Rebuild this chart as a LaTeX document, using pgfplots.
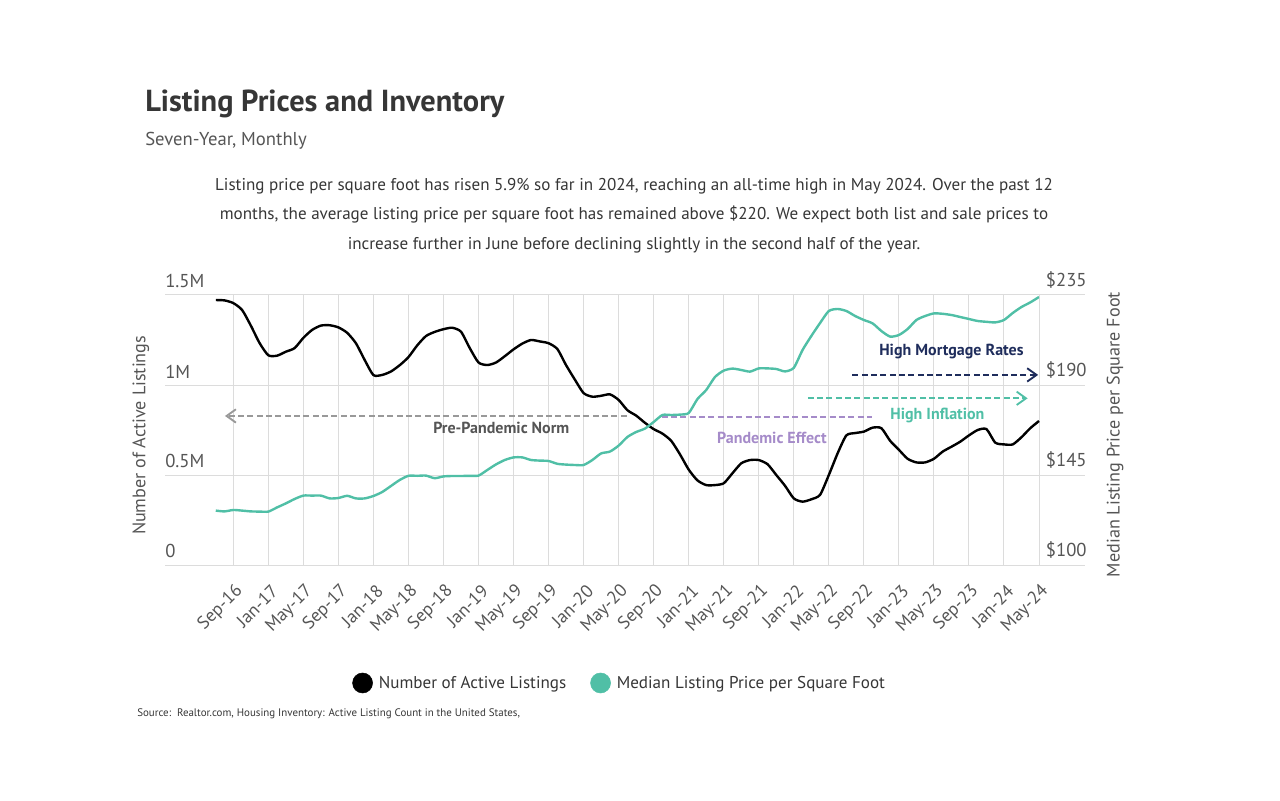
\documentclass[border=0pt]{standalone}
\usepackage{fontspec}
\setmainfont{PT Sans}
\usepackage{pgfplots}
\usepackage{pgfplotstable}
\pgfplotsset{compat=1.18}
\usetikzlibrary{arrows.meta}
\definecolor{tealc}{HTML}{50BFA6}
\definecolor{navyc}{HTML}{1F2D5C}
\definecolor{purpc}{HTML}{A58BC9}
\definecolor{gridc}{HTML}{DCDCDC}
\definecolor{txtc}{HTML}{555555}
\definecolor{titc}{HTML}{363636}

\pgfplotstableread{
m v
0 1.472
1 1.470
2 1.455
3 1.417
4 1.330
5 1.233
6 1.165
7 1.163
8 1.185
9 1.205
10 1.262
11 1.306
12 1.330
13 1.332
14 1.320
15 1.290
16 1.232
17 1.139
18 1.055
19 1.056
20 1.075
21 1.110
22 1.155
23 1.220
24 1.272
25 1.295
26 1.310
27 1.318
28 1.296
29 1.205
30 1.125
31 1.111
32 1.125
33 1.160
34 1.198
35 1.230
36 1.250
37 1.242
38 1.232
39 1.200
40 1.110
41 1.030
42 0.955
43 0.935
44 0.940
45 0.948
46 0.917
47 0.860
48 0.830
49 0.790
50 0.755
51 0.730
52 0.690
53 0.615
54 0.530
55 0.470
56 0.444
57 0.444
58 0.454
59 0.510
60 0.565
61 0.583
62 0.583
63 0.560
64 0.500
65 0.440
66 0.370
67 0.352
68 0.365
69 0.390
70 0.500
71 0.620
72 0.720
73 0.733
74 0.741
75 0.763
76 0.760
77 0.690
78 0.640
79 0.590
80 0.570
81 0.570
82 0.590
83 0.630
84 0.657
85 0.685
86 0.720
87 0.750
88 0.755
89 0.680
90 0.670
91 0.670
92 0.710
93 0.760
94 0.800
}\listings

\pgfplotstableread{
m v
0 127.2
1 126.8
2 127.5
3 127.2
4 126.8
5 126.7
6 126.7
7 128.8
8 130.8
9 133.0
10 134.7
11 134.7
12 134.7
13 133.3
14 133.5
15 134.6
16 133.3
17 133.3
18 134.5
19 136.5
20 139.5
21 142.5
22 144.6
23 144.6
24 144.7
25 143.4
26 144.3
27 144.5
28 144.5
29 144.6
30 144.7
31 147.5
32 150.3
33 152.5
34 153.8
35 153.8
36 152.5
37 152.2
38 152.0
39 150.6
40 150.2
41 150.0
42 150.0
43 152.5
44 155.8
45 156.7
46 159.7
47 164.0
48 166.5
49 168.2
50 171.5
51 175.0
52 175.0
53 175.2
54 176.0
55 183.0
56 187.5
57 194.0
58 197.2
59 198.2
60 197.5
61 196.7
62 198.3
63 198.3
64 198.0
65 196.8
66 198.6
67 207.5
68 214.5
69 221.0
70 227.0
71 228.0
72 227.0
73 224.5
74 222.5
75 220.8
76 217.0
77 214.2
78 215.0
79 218.0
80 222.5
81 224.5
82 225.8
83 225.6
84 225.0
85 224.0
86 223.0
87 222.0
88 221.6
89 221.3
90 222.5
91 226.0
92 229.0
93 231.3
94 234.0
}\prices

\begin{document}
\begin{tikzpicture}
\begin{scope}[x=0.75pt,y=0.75pt]
\path[use as bounding box] (0,0) rectangle (1280,800);
\node[anchor=base west, inner sep=0pt, text=titc, font=\fontsize{22.8}{22.8}\selectfont\bfseries] at (145,688.3) {Listing Prices and Inventory};
\node[anchor=base west, inner sep=0pt, text=txtc, font=\fontsize{14}{14}\selectfont] at (145,654) {Seven-Year, Monthly};
\node[anchor=base, inner sep=0pt, text=titc, font=\fontsize{12.8}{12.8}\selectfont] at (634,609) {Listing price per square foot has risen 5.9\% so far in 2024, reaching an all-time high in May 2024. Over the past 12};
\node[anchor=base, inner sep=0pt, text=titc, font=\fontsize{12.8}{12.8}\selectfont] at (634,580) {months, the average listing price per square foot has remained above \$220. We expect both list and sale prices to};
\node[anchor=base, inner sep=0pt, text=titc, font=\fontsize{12.8}{12.8}\selectfont] at (634,550) {increase further in June before declining slightly in the second half of the year.};
\node[anchor=base west, inner sep=0pt, text=titc, font=\fontsize{8.2}{8.2}\selectfont] at (137,84) {Source:\ \ Realtor.com, Housing Inventory: Active Listing Count in the United States,};
\end{scope}

\begin{axis}[
  at={(123.75pt,176.25pt)}, anchor=south west,
  width=655.5pt, height=202.5pt, scale only axis,
  xmin=-5.8, xmax=94, ymin=0, ymax=1.5,
  clip=false,
  axis line style={draw=none},
  major tick style={draw=none},
  xtick={2,6,...,94},
  xticklabels={Sep-16,Jan-17,May-17,Sep-17,Jan-18,May-18,Sep-18,Jan-19,May-19,Sep-19,Jan-20,May-20,Sep-20,Jan-21,May-21,Sep-21,Jan-22,May-22,Sep-22,Jan-23,May-23,Sep-23,Jan-24,May-24},
  xmajorgrids, grid style={gridc, line width=0.75pt},
  xticklabel style={font=\fontsize{13.5}{13.5}\selectfont, text=txtc, inner sep=0pt, xshift=5pt, yshift=-17.5pt, rotate=45, anchor=east},
  ytick={0,0.5,1,1.5},
  yticklabels={0,0.5M,1M,1.5M},
  yticklabel style={font=\fontsize{14}{14}\selectfont, text=txtc, inner sep=0pt, anchor=south west, yshift=5pt},
  ylabel={Number of Active Listings},
  ylabel style={at={(axis description cs:-0.0275,0.48)}, anchor=center, font=\fontsize{13.6}{13.6}\selectfont, text=txtc},
]
\foreach \yy in {0,0.5,1,1.5}{\edef\tmp{\noexpand\draw[gridc, line width=0.75pt] (axis cs:-5.8,\yy) -- (axis cs:99.2,\yy);}\tmp}
\addplot[black, line width=1.8pt, smooth, tension=0.4] table[x=m,y=v] {\listings};
% annotations
\draw[dash pattern=on 4.5pt off 2.5pt, color=gray!80, line width=1.4pt, -{Straight Barb[length=7pt,width=10pt]}] (axis cs:46.9,0.828) -- (axis cs:1.05,0.828);
\node[text=txtc, font=\fontsize{12}{12}\selectfont\bfseries] at (axis cs:32.6,0.761) {Pre-Pandemic Norm};
\draw[dash pattern=on 4.5pt off 2.5pt, color=purpc, line width=1.4pt] (axis cs:50.9,0.821) -- (axis cs:74.9,0.821);
\node[text=purpc, font=\fontsize{12}{12}\selectfont\bfseries] at (axis cs:63.5,0.706) {Pandemic Effect};
\draw[dash pattern=on 4.5pt off 2.5pt, color=tealc, line width=1.4pt, -{Straight Barb[length=7pt,width=10pt]}] (axis cs:67.6,0.926) -- (axis cs:92.7,0.926);
\node[text=tealc, font=\fontsize{12}{12}\selectfont\bfseries] at (axis cs:82.4,0.828) {High Inflation};
\draw[dash pattern=on 4.5pt off 2.5pt, color=navyc, line width=1.4pt, -{Straight Barb[length=7pt,width=10pt]}] (axis cs:72.7,1.056) -- (axis cs:93.9,1.056);
\node[text=navyc, font=\fontsize{12}{12}\selectfont\bfseries] at (axis cs:84.0,1.185) {High Mortgage Rates};
\end{axis}

\begin{axis}[
  at={(123.75pt,176.25pt)}, anchor=south west,
  width=655.5pt, height=202.5pt, scale only axis,
  xmin=-5.8, xmax=94, ymin=100, ymax=235,
  axis line style={draw=none},
  major tick style={draw=none},
  xtick=\empty,
  ytick={100,145,190,235},
  yticklabels={\$100,\$145,\$190,\$235},
  yticklabel pos=right,
  yticklabel style={font=\fontsize{14}{14}\selectfont, text=txtc, inner sep=0pt, anchor=south west, xshift=5pt, yshift=4.5pt},
  ylabel={Median Listing Price per Square Foot},
  ylabel style={at={(axis description cs:1.087,0.483)}, anchor=center, rotate=0, font=\fontsize{13.6}{13.6}\selectfont, text=txtc},
]
\addplot[tealc, line width=1.8pt, smooth, tension=0.4] table[x=m,y=v] {\prices};
\end{axis}

% legend axis
\begin{axis}[
  at={(123.75pt,176.25pt)}, anchor=south west,
  width=655.5pt, height=202.5pt, scale only axis,
  xmin=0, xmax=1, ymin=0, ymax=1, hide axis,
  legend style={at={(0.5206,-0.437)}, anchor=center, draw=none, fill=none, legend columns=2, font=\fontsize{12.8}{12.8}\selectfont, text=titc, /tikz/every even column/.append style={column sep=16pt}},
  legend image code/.code={\fill[#1] (0pt,0pt) circle (7.5pt); \path (10pt,0pt);},
]
\addlegendimage{black}
\addlegendentry{Number of Active Listings}
\addlegendimage{tealc}
\addlegendentry{Median Listing Price per Square Foot}
\end{axis}
\end{tikzpicture}
\end{document}
